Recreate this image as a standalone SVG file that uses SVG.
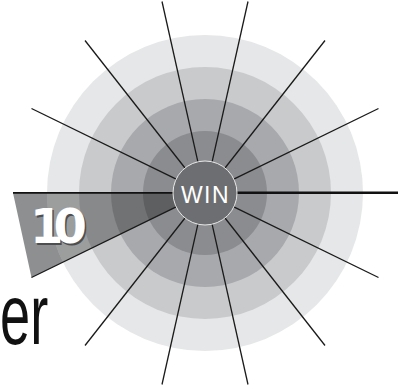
<svg xmlns="http://www.w3.org/2000/svg" width="404" height="390" viewBox="0 0 404 390">
<style>
.spoke{stroke:#1a1a1a;stroke-width:1.3;fill:none}
.sans{font-family:"Liberation Sans",Arial,sans-serif}
.num{font-family:"DejaVu Sans",sans-serif;font-weight:bold;font-size:48px;letter-spacing:-10px}
</style>
<defs>
<clipPath id="disc"><circle cx="205" cy="193" r="158"/></clipPath>
</defs>
<rect width="404" height="390" fill="#ffffff"/>
<text class="sans" transform="translate(0,344) scale(0.63,1)" x="0" y="0" font-size="86" fill="#111">er</text>
<g id="wedge-base">
<polygon points="205,193 13,193 31.5,277.5" fill="#8e8f91"/>
</g>
<g id="rings">
<circle cx="205" cy="193" r="158" fill="#e6e7e8"/>
<circle cx="205" cy="193" r="126" fill="#c9cacc"/>
<circle cx="205" cy="193" r="94" fill="#a7a9ac"/>
<circle cx="205" cy="193" r="62" fill="#8b8c8f"/>
</g>
<g id="wedge">
<polygon points="205,193 13,193 31.5,277.5" fill="#000" fill-opacity="0.32" clip-path="url(#disc)"/>
<text class="num" x="31.5" y="244.5" fill="#4d4e50">10</text>
<text class="num" x="30" y="243" fill="#ffffff">10</text>
</g>
<g id="connectors">
<line class="spoke" x1="233.8" y1="179.1" x2="378.5" y2="108.5"/>
<line class="spoke" x1="225" y1="168" x2="325" y2="40.5"/>
<line class="spoke" x1="212.1" y1="161.8" x2="248" y2="1.5"/>
<line class="spoke" x1="176.2" y1="179.1" x2="31.5" y2="108.5"/>
<line class="spoke" x1="185" y1="168" x2="85" y2="40.5"/>
<line class="spoke" x1="197.9" y1="161.8" x2="162" y2="1.5"/>
<line class="spoke" x1="233.8" y1="206.9" x2="378.5" y2="277.5"/>
<line class="spoke" x1="225" y1="218" x2="325" y2="345.5"/>
<line class="spoke" x1="212.1" y1="224.2" x2="248" y2="384.5"/>
<line class="spoke" x1="176.2" y1="206.9" x2="31.5" y2="277.5"/>
<line class="spoke" x1="185" y1="218" x2="85" y2="345.5"/>
<line class="spoke" x1="197.9" y1="224.2" x2="162" y2="384.5"/>
<line x1="13" y1="192.8" x2="173" y2="192.8" stroke="#111" stroke-width="1.8"/>
<line x1="237" y1="192.8" x2="398" y2="192.8" stroke="#111" stroke-width="2.4"/>
</g>
<g id="win">
<circle cx="205" cy="193" r="32" fill="#6d6e71" stroke="#e8e8e8" stroke-width="1"/>
<text class="sans" x="205.5" y="203" font-size="23" text-anchor="middle" letter-spacing="1.5" fill="#ffffff">WIN</text>
</g>
</svg>
